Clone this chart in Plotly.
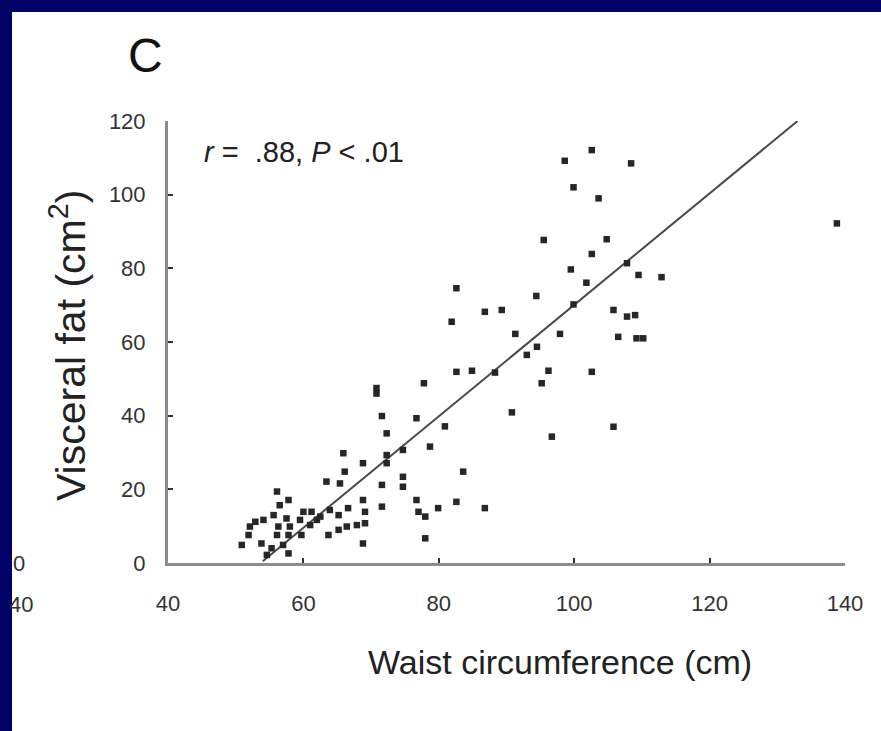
import plotly.graph_objects as go

# ---- data ----
waist_cm = [102.6, 98.6, 108.4, 99.9, 103.6, 95.5, 104.8, 102.6, 99.5, 107.8,
            109.5, 112.9, 101.8, 94.4, 99.9, 105.8, 107.8, 109.0, 97.9, 106.5,
            109.2, 110.2, 94.5, 96.2, 102.6, 95.2, 105.8, 96.7, 138.8, 89.3,
            91.3, 93.0, 82.6, 86.8, 81.9, 82.6, 84.9, 88.3, 77.8, 90.8,
            76.7, 80.9, 71.6, 70.8, 70.8, 72.3, 78.7, 74.7, 72.3, 72.3,
            83.6, 74.7, 74.7, 71.6, 76.7, 71.6, 82.6, 79.9, 86.8, 77.0,
            78.0, 78.0, 68.8, 65.9, 66.1, 63.4, 65.4, 56.1, 57.8, 56.5,
            68.8, 60.0, 61.2, 63.9, 65.2, 66.6, 69.1, 55.6, 57.5, 62.5,
            59.5, 61.0, 52.9, 52.1, 54.1, 56.3, 58.0, 66.4, 67.9, 69.1,
            51.9, 56.1, 57.8, 59.7, 63.7, 65.2, 50.9, 53.8, 55.3, 57.0,
            54.6, 57.8, 68.8, 62.0]
visceral_fat = [112.1, 109.2, 108.5, 102.0, 99.0, 87.7, 87.9, 83.9, 79.7, 81.4,
                78.2, 77.6, 76.1, 72.5, 70.2, 68.7, 66.9, 67.3, 62.2, 61.4,
                61.0, 61.0, 58.7, 52.2, 51.9, 48.8, 37.0, 34.3, 92.2, 68.7,
                62.2, 56.5, 74.6, 68.2, 65.5, 51.9, 52.2, 51.7, 48.8, 40.9,
                39.3, 37.1, 39.9, 47.5, 46.0, 35.2, 31.6, 30.7, 29.3, 27.1,
                24.8, 23.4, 20.7, 21.2, 17.1, 15.3, 16.6, 14.9, 14.9, 13.9,
                12.6, 6.7, 27.1, 29.8, 24.8, 22.1, 21.6, 19.4, 17.1, 15.7,
                17.1, 13.9, 13.9, 14.4, 13.0, 14.9, 13.9, 13.0, 12.1, 12.6,
                11.7, 10.3, 11.2, 9.9, 11.7, 9.9, 9.9, 9.9, 10.3, 10.8,
                7.6, 7.6, 7.6, 7.6, 7.6, 9.0, 4.9, 5.3, 4.0, 4.9,
                2.2, 2.6, 5.3, 11.7]
fit_x = [54, 133]
fit_y = [0.5, 120]
x_ticks = [40, 60, 80, 100, 120, 140]
y_ticks = [0, 20, 40, 60, 80, 100, 120]

FONT = "Liberation Sans, Arial, sans-serif"
NAVY = "#000066"

fig = go.Figure()
fig.add_trace(go.Scatter(x=fit_x, y=fit_y, mode="lines",
                         line=dict(color="#4a4a4a", width=2), showlegend=False))
fig.add_trace(go.Scatter(x=waist_cm, y=visceral_fat, mode="markers",
                         marker=dict(symbol="square", size=6.5, color="#262626",
                                     line=dict(width=0)),
                         showlegend=False))

fig.update_layout(
    width=881, height=731,
    margin=dict(l=168, r=36, t=121, b=168),
    paper_bgcolor="white", plot_bgcolor="white",
    font=dict(family=FONT, color="#333"),
    xaxis=dict(range=[40, 140], tickvals=x_ticks, showgrid=False, zeroline=False,
               showline=True, linecolor="#8c8c8c", linewidth=3,
               ticks="inside", ticklen=5, tickwidth=2, tickcolor="#333",
               tickfont=dict(size=22, color="#333"), ticklabelstandoff=19),
    yaxis=dict(range=[0, 120], tickvals=y_ticks, showgrid=False, zeroline=False,
               showline=True, linecolor="#8c8c8c", linewidth=3,
               ticks="inside", ticklen=5, tickwidth=2, tickcolor="#333",
               tickfont=dict(size=22, color="#333"), ticklabelstandoff=15),
    shapes=[
        dict(type="rect", xref="paper", yref="paper", x0=-168/677, x1=-156/677,
             y0=-168/442, y1=1 + 121/442, fillcolor=NAVY, line=dict(width=0), layer="below"),
        dict(type="rect", xref="paper", yref="paper", x0=-168/677, x1=1 + 36/677,
             y0=1 + 109/442, y1=1 + 121/442, fillcolor=NAVY, line=dict(width=0), layer="below"),
    ],
    annotations=[
        dict(text="C", xref="paper", yref="paper", x=(145-168)/677, y=1 + (121-55)/442,
             showarrow=False, xanchor="center", yanchor="middle",
             font=dict(size=48, color="#111", family=FONT)),
        dict(text="<i>r</i> = &nbsp;.88, <i>P</i> < .01", xref="paper", yref="paper",
             x=(202-168)/677, y=1 - (152-121)/442, showarrow=False,
             xanchor="left", yanchor="middle", font=dict(size=29, color="#222", family=FONT)),
        dict(text="Waist circumference (cm)", xref="paper", yref="paper",
             x=(560-168)/677, y=-(662-563)/442, showarrow=False,
             xanchor="center", yanchor="middle", font=dict(size=34, color="#222", family=FONT)),
        dict(text="Visceral fat (cm<sup>2</sup>)", xref="paper", yref="paper",
             x=(68-168)/677, y=(563-346)/442, showarrow=False, textangle=-90,
             xanchor="center", yanchor="middle", font=dict(size=41, color="#222", family=FONT)),
        dict(text="40", xref="paper", yref="paper", x=(35-168)/677, y=-(604-563)/442,
             showarrow=False, xanchor="right", yanchor="middle",
             font=dict(size=22, color="#333", family=FONT)),
        dict(text="0", xref="paper", yref="paper", x=(27-168)/677, y=0,
             showarrow=False, xanchor="right", yanchor="middle",
             font=dict(size=22, color="#333", family=FONT)),
    ],
)

fig.write_html("out.html")
